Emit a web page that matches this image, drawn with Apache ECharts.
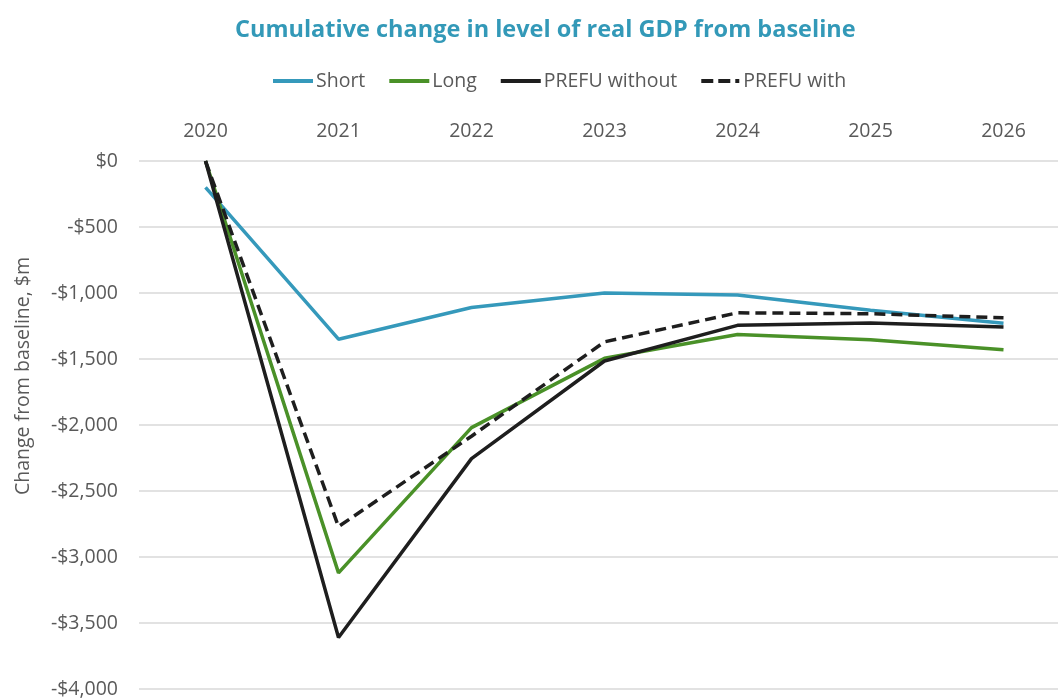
<!DOCTYPE html>
<html>
<head>
<meta charset="utf-8">
<script src="https://cdn.jsdelivr.net/npm/echarts@6/dist/echarts.min.js"></script>
<style>
  html, body { margin: 0; padding: 0; background: #fff; }
  #chart { width: 1058px; height: 699px; }
</style>
</head>
<body>
<div id="chart"></div>
<script>
// Years along the top axis
const years = ['2020', '2021', '2022', '2023', '2024', '2025', '2026'];

// Cumulative change in real GDP from baseline, $m
const shortScenario = [-200, -1350, -1110, -1000, -1015, -1130, -1230];
const longScenario = [0, -3120, -2020, -1495, -1315, -1355, -1430];
const prefuWithout = [0, -3610, -2255, -1515, -1245, -1228, -1258];
const prefuWith = [0, -2770, -2085, -1370, -1150, -1157, -1188];

const FONT = '"Open Sans", "Noto Sans", sans-serif';
const GREY = '#595959';

// Legend keys drawn as plain strokes (solid, or dashes ending in a dot)
const SOLID_ICON = 'path://M0,0H40V4H0Z';
const DASH_ICON = 'path://M0,0H12V4H0Z M17,0H29V4H17Z M34,0H38V4H34Z';

const chart = echarts.init(document.getElementById('chart'), null, { renderer: 'canvas' });

function lineSeries(name, data, color, type) {
  return {
    name: name,
    type: 'line',
    data: data,
    symbol: 'none',
    showSymbol: false,
    clip: true,
    color: color,
    lineStyle: { color: color, width: 3.5, type: type || 'solid', cap: 'butt' },
    emphasis: { disabled: true }
  };
}

chart.setOption({
  animation: false,
  backgroundColor: '#ffffff',
  title: {
    text: 'Cumulative change in level of real GDP from baseline',
    left: 230,
    top: 13,
    textStyle: { fontFamily: FONT, fontSize: 23.5, fontWeight: 'bold', color: '#3399b8' }
  },
  legend: {
    top: 66,
    left: 268,
    itemWidth: 40,
    itemHeight: 4,
    itemGap: 24,
    textStyle: { fontFamily: FONT, fontSize: 19.5, color: GREY, padding: [0, 0, 0, -2] },
    data: [
      { name: 'Short', icon: SOLID_ICON },
      { name: 'Long', icon: SOLID_ICON },
      { name: 'PREFU without', icon: SOLID_ICON },
      { name: 'PREFU with', icon: DASH_ICON }
    ]
  },
  grid: { left: 139, top: 161, right: -12, height: 528, containLabel: false, outerBoundsMode: 'none' },
  xAxis: {
    type: 'category',
    position: 'top',
    data: years,
    boundaryGap: true,
    axisLine: { show: false },
    axisTick: { show: false },
    axisLabel: { fontFamily: FONT, fontSize: 19.5, color: GREY, margin: 20 },
    splitLine: { show: false }
  },
  yAxis: {
    type: 'value',
    min: -4000,
    max: 0,
    interval: 500,
    axisLine: { show: false },
    axisTick: { show: false },
    axisLabel: {
      fontFamily: FONT, fontSize: 19.5, color: GREY, margin: 21,
      formatter: function (v) {
        const s = '$' + Math.abs(v).toLocaleString('en-US');
        return v < 0 ? '-' + s : s;
      }
    },
    splitLine: { lineStyle: { color: '#d9d9d9', width: 1.5 } }
  },
  graphic: [{
    type: 'text',
    x: 23,
    y: 376,
    rotation: Math.PI / 2,
    style: {
      text: 'Change from baseline, $m',
      fontFamily: FONT,
      fontSize: 19.5,
      fill: GREY,
      textAlign: 'center',
      textVerticalAlign: 'middle'
    }
  }],
  series: [
    lineSeries('Short', shortScenario, '#3599bb'),
    lineSeries('Long', longScenario, '#4a9128'),
    lineSeries('PREFU without', prefuWithout, '#1e1e1e'),
    lineSeries('PREFU with', prefuWith, '#1e1e1e', [11, 6])
  ]
});
</script>
</body>
</html>
